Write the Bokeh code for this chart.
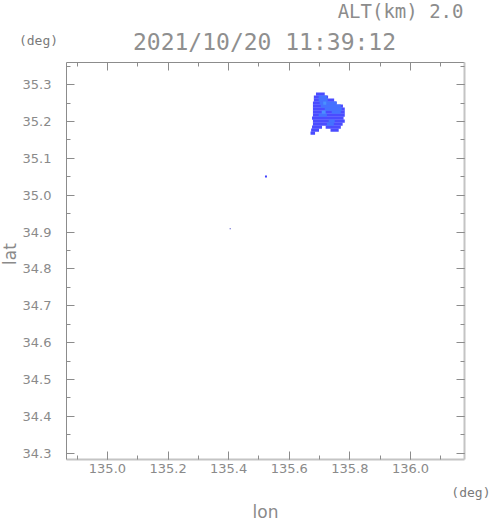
from bokeh.plotting import figure
from bokeh.layouts import column, row
from bokeh.models import (LinearAxis, FixedTicker, PrintfTickFormatter,
                          Range1d, CustomJSTickFormatter)
from bokeh.core.properties import value
from bokeh.embed import file_html
from bokeh.resources import INLINE

# ---- data ----
title_text = "2021/10/20 11:39:12"
alt_text = "ALT(km) 2.0"
x_name, y_name, unit = "lon", "lat", "(deg)"

lon_major = [135.0, 135.2, 135.4, 135.6, 135.8, 136.0]
lon_minor = [134.9, 135.0, 135.1, 135.2, 135.3, 135.4, 135.5, 135.6, 135.7,
             135.8, 135.9, 136.0, 136.1]
lat_major = [34.3, 34.4, 34.5, 34.6, 34.7, 34.8, 34.9, 35.0, 35.1, 35.2, 35.3]
lat_minor = [34.3, 34.35, 34.4, 34.45, 34.5, 34.55, 34.6, 34.65, 34.7, 34.75,
             34.8, 34.85, 34.9, 34.95, 35.0, 35.05, 35.1, 35.15, 35.2, 35.25,
             35.3, 35.35]

# echo cluster, row by row (lat centre, west lon, east lon)
blob_lat = [35.2742, 35.2661, 35.2580, 35.2498, 35.2417, 35.2336, 35.2254,
            35.2173, 35.2091, 35.2010, 35.1929, 35.1847, 35.1847, 35.1766,
            35.1766, 35.1685]
blob_w = [135.688, 135.681, 135.681, 135.678, 135.678, 135.678, 135.678,
          135.678, 135.675, 135.678, 135.678, 135.675, 135.720, 135.672,
          135.736, 135.670]
blob_e = [135.717, 135.728, 135.748, 135.755, 135.777, 135.783, 135.783,
          135.783, 135.779, 135.783, 135.776, 135.708, 135.770, 135.698,
          135.763, 135.685]

light_lat = [35.2661, 35.2580, 35.2498, 35.2417, 35.2336, 35.2254, 35.2173,
             35.2010, 35.1929]
light_w = [135.697, 135.697, 135.700, 135.704, 135.717, 135.740, 135.697,
           135.730, 135.724]
light_e = [135.724, 135.727, 135.757, 135.770, 135.773, 135.770, 135.724,
           135.750, 135.747]

bright_lat = [35.2254, 35.2498]
bright_w = [135.707, 135.712]
bright_e = [135.720, 135.722]

pt1_lon, pt1_lat = [135.523], [35.0505]
pt2_lon, pt2_lat = [135.405], [34.909]

# ---- styles ----
GRAY = "#8c8c8c"
TXT = "#8a8a8a"
TOTAL_W = 491


def text_panel(w, h):
    f = figure(width=w, height=h, x_range=Range1d(0, w), y_range=Range1d(h, 0),
               output_backend="svg", toolbar_location=None,
               x_axis_location=None, y_axis_location=None,
               min_border=0, background_fill_color="white",
               border_fill_color="white")
    f.grid.visible = False
    f.outline_line_color = None
    return f


# header with the titles
head = text_panel(TOTAL_W, 54)
head.text(x=[463], y=[10], text=[alt_text], text_align="right",
          text_baseline="middle", text_font=value("DejaVu Sans Mono"),
          text_font_size=value("19px"), text_color="#8c8c8c")
head.text(x=[264], y=[41], text=[title_text], text_align="center",
          text_baseline="middle", text_font=value("DejaVu Sans Mono"),
          text_font_size=value("23px"), text_color="#8f8f8f")
head.text(x=[38], y=[40], text=[unit], text_align="center",
          text_baseline="middle", text_font=value("DejaVu Sans Mono"),
          text_font_size=value("13px"), text_color="#7a7a7a")

# left strip with the y name
side = text_panel(18, 427)
side.text(x=[9], y=[206], text=[y_name], text_align="center",
          text_baseline="middle", angle=1.5707963,
          text_font=value("DejaVu Sans"), text_font_size=value("17px"),
          text_color=TXT)

# footer with x unit and name
foot = text_panel(TOTAL_W, 40)
foot.text(x=[490], y=[11], text=[unit], text_align="right",
          text_baseline="middle", text_font=value("DejaVu Sans Mono"),
          text_font_size=value("13px"), text_color="#7a7a7a")
foot.text(x=[265], y=[30], text=[x_name], text_align="center",
          text_baseline="middle", text_font=value("DejaVu Sans"),
          text_font_size=value("17px"), text_color=TXT)

# main map panel
p = figure(width=473, height=427,
           x_range=Range1d(134.865, 136.178), y_range=Range1d(34.283, 35.360),
           output_backend="svg", toolbar_location=None,
           min_border_left=48, min_border_right=27,
           min_border_top=8, min_border_bottom=22,
           background_fill_color="white", border_fill_color="white")
p.grid.visible = False
p.outline_line_color = None

ROW_H = 0.0093
p.hbar(y=blob_lat, height=ROW_H, left=blob_w, right=blob_e,
       fill_color="#4a4cff", line_color=None)
p.hbar(y=light_lat, height=ROW_H, left=light_w, right=light_e,
       fill_color="#4472ff", line_color=None)
p.hbar(y=bright_lat, height=ROW_H, left=bright_w, right=bright_e,
       fill_color="#4a90ff", line_color=None)
p.rect(x=pt1_lon, y=pt1_lat, width=2, height=2, width_units="screen",
       height_units="screen", fill_color="#4040ff", line_color=None)
p.rect(x=pt2_lon, y=pt2_lat, width=1, height=1, width_units="screen",
       height_units="screen", fill_color="#3030c0", line_color=None)


def style_axis(ax, line_color, line_width):
    ax.axis_line_color = line_color
    ax.axis_line_width = line_width
    ax.major_tick_line_color = GRAY
    ax.minor_tick_line_color = GRAY
    ax.major_tick_in = 8
    ax.major_tick_out = 0
    ax.minor_tick_in = 4
    ax.minor_tick_out = 0
    ax.major_label_text_color = TXT
    ax.major_label_text_font = "DejaVu Sans"
    ax.major_label_text_font_size = "13px"


xt = FixedTicker(ticks=lon_major, minor_ticks=lon_minor)
yt = FixedTicker(ticks=lat_major, minor_ticks=lat_minor)

xa = p.xaxis[0]
xa.ticker = xt
xa.formatter = PrintfTickFormatter(format="%.1f")
style_axis(xa, "#c4c4c4", 2)
xa.major_label_standoff = 4

ya = p.yaxis[0]
ya.ticker = yt
ya.formatter = PrintfTickFormatter(format="%.1f")
style_axis(ya, GRAY, 1)
ya.major_label_standoff = 15

blank = CustomJSTickFormatter(code="return ''")
top = LinearAxis(ticker=xt, formatter=blank, major_label_standoff=0)
style_axis(top, GRAY, 1)
top.major_label_text_font_size = "1px"
p.add_layout(top, "above")
right = LinearAxis(ticker=yt, formatter=blank, major_label_standoff=0)
style_axis(right, "#c4c4c4", 2)
right.major_label_text_font_size = "1px"
p.add_layout(right, "right")

layout = column(head, row(side, p), foot)
open("out.html", "w").write(file_html(layout, INLINE))
